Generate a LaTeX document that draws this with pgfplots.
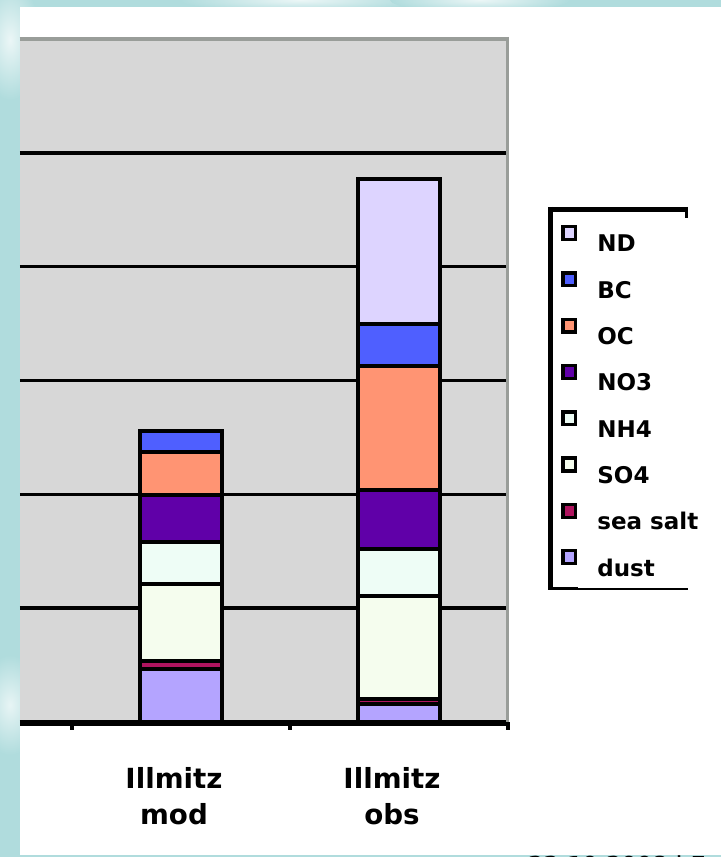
\documentclass[border=0pt]{standalone}
\usepackage{pgfplots}
\usepackage{pgfplotstable}
\pgfplotsset{compat=1.18}
\usepackage{fontspec}
\setmainfont{DejaVu Sans}

\definecolor{slide}{HTML}{B0DCDD}
\definecolor{plotbg}{HTML}{D7D7D7}
\definecolor{framegray}{HTML}{999D99}
\definecolor{cND}{HTML}{DDD4FF}
\definecolor{cBC}{HTML}{4F5FFF}
\definecolor{cOC}{HTML}{FF9473}
\definecolor{cNO3}{HTML}{6000A8}
\definecolor{cNH4}{HTML}{EEFDF6}
\definecolor{cSO4}{HTML}{F5FDEE}
\definecolor{cSS}{HTML}{B0145F}
\definecolor{cDust}{HTML}{B4A4FF}

% PM composition, model vs. observation at Illmitz
\pgfplotstableread{
x dust seasalt SO4 NH4 NO3 OC BC ND
1 2.33 0.35 3.38 1.85 2.06 1.89 0.92 0
2 0.80 0.20 4.55 2.06 2.59 5.42 1.85 6.37
}\aerosol

\tikzset{px/.style={x=1bp,y=-1bp,shift={(0bp,857bp)}}}

\begin{document}
\begin{tikzpicture}
\useasboundingbox (0,0) rectangle (721bp,857bp);
\begin{scope}[px]
  \fill[slide] (0,0) rectangle (721,857);
  \begin{scope}
    \clip (0,0) rectangle (20,857) (0,0) rectangle (721,7);
    \shade[inner color=white!75!slide, outer color=slide] (10,40) ellipse (30 and 60);
    \shade[inner color=white!70!slide, outer color=slide] (10,705) ellipse (30 and 50);
    \shade[inner color=white!75!slide, outer color=slide] (300,0) ellipse (120 and 12);
    \shade[inner color=white!75!slide, outer color=slide] (480,0) ellipse (90 and 12);
  \end{scope}
  \fill[white] (20,7) rectangle (721,855);
\end{scope}

\begin{axis}[
  at={(20bp,135bp)}, anchor=south west,
  scale only axis, width=488bp, height=683bp,
  xmin=0.2615, xmax=2.5, ymin=0, ymax=30,
  ybar stacked, bar width=82bp,
  axis background/.style={fill=plotbg},
  axis line style={draw=none},
  ytick={0,5,...,30}, yticklabels={},
  ymajorgrids, grid style={black, line width=3.6bp},
  ytick style={draw=none},
  xtick={0.5,1.5,2.5}, x tick label as interval,
  xticklabels={{Illmitz\\mod},{Illmitz\\obs}},
  xtick pos=lower, tick align=outside, major tick length=8bp,
  xtick style={black, line width=3.6bp},
  xticklabel style={font=\fontsize{27.7bp}{36bp}\selectfont\bfseries,
    align=center, inner sep=0pt, yshift=-37bp, xshift=-7bp},
  every axis plot/.append style={draw=black, line width=3.8bp},
  reverse legend, legend cell align=left,
  legend image code/.code={\draw[#1, line width=3.4bp] (1.7bp,4bp) rectangle (14.5bp,16.8bp);},
  legend style={at={(axis description cs:1.1086,0.7281)}, anchor=north west,
    draw=none, fill=none, inner sep=0pt, row sep=19.3bp, column sep=20bp,
    font=\fontsize{23bp}{23bp}\selectfont\bfseries,
    nodes={inner sep=0pt, text height=17bp, text depth=0bp}},
]
\addplot[fill=cDust] table[x=x,y=dust]{\aerosol};
\addplot[fill=cSS]   table[x=x,y=seasalt]{\aerosol};
\addplot[fill=cSO4]  table[x=x,y=SO4]{\aerosol};
\addplot[fill=cNH4]  table[x=x,y=NH4]{\aerosol};
\addplot[fill=cNO3]  table[x=x,y=NO3]{\aerosol};
\addplot[fill=cOC]   table[x=x,y=OC]{\aerosol};
\addplot[fill=cBC]   table[x=x,y=BC]{\aerosol};
\addplot[fill=cND]   table[x=x,y=ND]{\aerosol};
\legend{dust,sea salt,SO4,NH4,NO3,OC,BC,ND}
\end{axis}

\begin{scope}[px]
  % plot area frame
  \draw[framegray, line width=4bp] (20,39) -- (509,39);
  \draw[framegray, line width=3bp] (507.5,37) -- (507.5,723);
  \draw[black, line width=4bp] (20,724) -- (509,724);
  % legend frame
  \draw[black, line width=5bp] (550.5,207) -- (550.5,590);
  \draw[black, line width=4.5bp] (548,209.5) -- (688,209.5);
  \draw[black, line width=3bp] (686.5,207) -- (686.5,218);
  \draw[black, line width=3.5bp] (548,588.5) -- (578,588.5);
  \draw[black, line width=1.2bp] (578,589) -- (688,589);
  % footer line, partly hidden below the slide edge
  \begin{scope}
    \clip (0,0) rectangle (721,857);
    \fill[slide] (0,855) rectangle (721,857);
    \node[anchor=base west, inner sep=0pt, font=\fontsize{22bp}{22bp}\selectfont\bfseries]
      at (528,873) {22.10.2008 | Folie 5};
  \end{scope}
\end{scope}
\end{tikzpicture}
\end{document}
